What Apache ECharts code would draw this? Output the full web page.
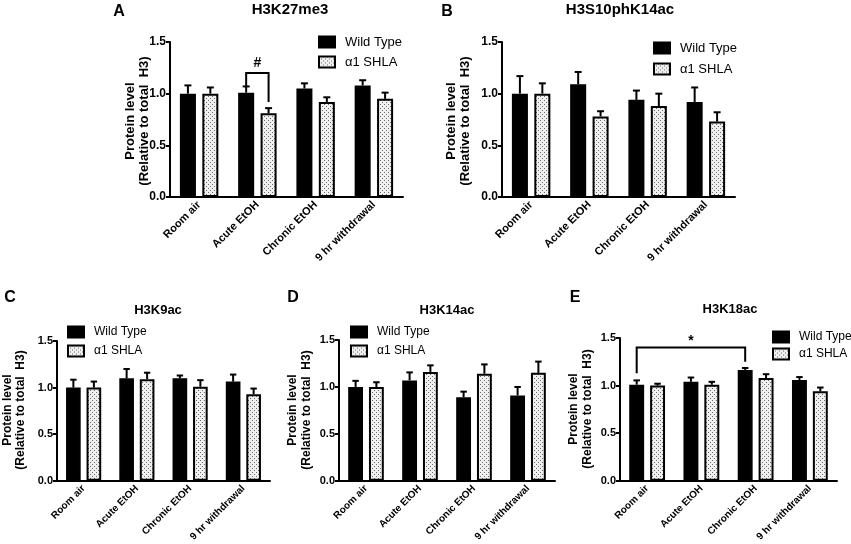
<!DOCTYPE html>
<html><head><meta charset="utf-8">
<script src="https://cdn.jsdelivr.net/npm/echarts@6/dist/echarts.min.js"></script>
<style>html,body{margin:0;padding:0;background:#fff}#c{width:851px;height:544px}</style>
</head><body><div id="c"></div>
<script>
const categories = ['Room air', 'Acute EtOH', 'Chronic EtOH', '9 hr withdrawal'];
const seriesNames = ['Wild Type', '\u03b11 SHLA'];
const panelTitles = ['H3K27me3', 'H3S10phK14ac', 'H3K9ac', 'H3K14ac', 'H3K18ac'];
const panelLetters = ['A', 'B', 'C', 'D', 'E'];
const yTicks = [0, 0.5, 1.0, 1.5];
const yNameLine1 = 'Protein level';
const yNameLine2 = '(Relative to total  H3)';

// Panel A: H3K27me3
const wtA = [1.00, 1.01, 1.05, 1.08];
const wtSemA = [0.08, 0.06, 0.05, 0.05];
const shlaA = [1.00, 0.81, 0.92, 0.95];
const shlaSemA = [0.06, 0.05, 0.045, 0.06];
// Panel B: H3S10phK14ac
const wtB = [1.00, 1.09, 0.94, 0.92];
const wtSemB = [0.17, 0.12, 0.09, 0.14];
const shlaB = [1.00, 0.78, 0.88, 0.73];
const shlaSemB = [0.10, 0.05, 0.12, 0.09];
// Panel C: H3K9ac
const wtC = [1.00, 1.10, 1.10, 1.065];
const wtSemC = [0.085, 0.10, 0.03, 0.075];
const shlaC = [1.00, 1.09, 1.01, 0.93];
const shlaSemC = [0.065, 0.07, 0.07, 0.06];
// Panel D: H3K14ac
const wtD = [1.00, 1.07, 0.89, 0.91];
const wtSemD = [0.065, 0.085, 0.06, 0.09];
const shlaD = [1.00, 1.16, 1.14, 1.15];
const shlaSemD = [0.05, 0.07, 0.10, 0.12];
// Panel E: H3K18ac
const wtE = [1.01, 1.04, 1.165, 1.06];
const wtSemE = [0.045, 0.045, 0.02, 0.03];
const shlaE = [1.00, 1.01, 1.08, 0.94];
const shlaSemE = [0.02, 0.03, 0.04, 0.04];

// significance brackets: [cat1, side1, low1, cat2, side2, low2, top]
const bracketA = [1, -1, 1.07, 1, 1, 0.92, 1.20];
const markA = '#';
const markAY = 1.30;
const bracketE = [0, -1, 1.13, 2, -1, 1.25, 1.40];
const markE = '*';
const markEY = 1.47;

const wtAll = [wtA, wtB, wtC, wtD, wtE];
const wtSemAll = [wtSemA, wtSemB, wtSemC, wtSemD, wtSemE];
const shlaAll = [shlaA, shlaB, shlaC, shlaD, shlaE];
const shlaSemAll = [shlaSemA, shlaSemB, shlaSemC, shlaSemD, shlaSemE];

const FONT = '"Liberation Sans", Arial, Helvetica, sans-serif';

const layout = [
  {grid:{left:170,top:42,width:233,height:155}, title:[290,2], titleFont:15, letter:[119,12], yname:[130,144,121], yFont:13, legend:[318,35,6], legFont:13, tickFont:12, catFont:11},
  {grid:{left:502,top:42,width:233,height:155}, title:[620,2], titleFont:15, letter:[447,12], yname:[451,465,121], yFont:13, legend:[653,41,7], legFont:13, tickFont:12, catFont:11},
  {grid:{left:57,top:341,width:213,height:141}, title:[158,304], titleFont:13, letter:[10,298], yname:[8,21,410], yFont:12, legend:[67,325,5], legFont:12, tickFont:11, catFont:10},
  {grid:{left:339,top:340,width:216,height:142}, title:[447,304], titleFont:13, letter:[293,298], yname:[293,307,410], yFont:12, legend:[350,325,5], legFont:12, tickFont:11, catFont:10},
  {grid:{left:620,top:338,width:217,height:143}, title:[730,303], titleFont:13, letter:[575,298], yname:[574,588,409], yFont:12, legend:[772,330,3], legFont:12, tickFont:11, catFont:10}
];

// dotted pattern for the alpha1 SHLA bars
const pc = document.createElement('canvas');
pc.width = 4; pc.height = 4;
const pctx = pc.getContext('2d');
pctx.fillStyle = '#f0f0f0'; pctx.fillRect(0, 0, 4, 4);
pctx.fillStyle = '#6a6a6a';
pctx.fillRect(0, 0, 1, 1); pctx.fillRect(2, 2, 1, 1);
const dotPattern = {image: pc, repeat: 'repeat'};

const OFF = 0.1925; // bar centre offset as fraction of band (barWidth 27.5%, barGap 40%)

function errRender(side) {
  return function (params, api) {
    const ci = api.value(0), m = api.value(1), s = api.value(2);
    const band = api.size([1, 0])[0];
    const p0 = api.coord([ci, m]);
    const p1 = api.coord([ci, m + s]);
    const x = p0[0] + side * OFF * band;
    const cap = band * 0.06;
    return {type: 'group', children: [
      {type: 'line', shape: {x1: x, y1: p0[1], x2: x, y2: p1[1]}, style: {stroke: '#000', lineWidth: 2}},
      {type: 'line', shape: {x1: x - cap, y1: p1[1], x2: x + cap, y2: p1[1]}, style: {stroke: '#000', lineWidth: 2}}
    ]};
  };
}

function bracketRender(mark, markY, fontSize) {
  return function (params, api) {
    const band = api.size([1, 0])[0];
    const c1 = api.value(0), s1 = api.value(1), l1 = api.value(2);
    const c2 = api.value(3), s2 = api.value(4), l2 = api.value(5), t = api.value(6);
    const x1 = api.coord([c1, 0])[0] + s1 * OFF * band;
    const x2 = api.coord([c2, 0])[0] + s2 * OFF * band;
    const y1 = api.coord([c1, l1])[1];
    const y2 = api.coord([c2, l2])[1];
    const yt = api.coord([c1, t])[1];
    const ym = api.coord([c1, markY])[1];
    return {type: 'group', children: [
      {type: 'polyline', shape: {points: [[x1, y1], [x1, yt], [x2, yt], [x2, y2]]}, style: {stroke: '#000', lineWidth: 2, fill: null}},
      {type: 'text', x: (x1 + x2) / 2, y: ym, style: {text: mark, font: 'bold ' + fontSize + 'px ' + FONT, fill: '#000', align: 'center', verticalAlign: 'middle'}}
    ]};
  };
}

const grids = [], xAxes = [], yAxes = [], legends = [], titles = [], series = [], graphics = [];

layout.forEach((L, i) => {
  grids.push(Object.assign({containLabel: false}, L.grid));
  xAxes.push({
    type: 'category', gridIndex: i, data: categories,
    axisLine: {lineStyle: {color: '#000', width: 2}},
    axisTick: {alignWithLabel: true, length: 4, lineStyle: {color: '#000', width: 2}},
    axisLabel: {interval: 0, rotate: 45, margin: 6, color: '#000', fontFamily: FONT, fontWeight: 'bold', fontSize: L.catFont},
    splitLine: {show: false}
  });
  yAxes.push({
    type: 'value', gridIndex: i, min: yTicks[0], max: yTicks[yTicks.length - 1], interval: yTicks[1] - yTicks[0],
    axisLine: {show: true, lineStyle: {color: '#000', width: 2}},
    axisTick: {show: true, length: 4, lineStyle: {color: '#000', width: 2}},
    axisLabel: {margin: 4, color: '#000', fontFamily: FONT, fontWeight: 'bold', fontSize: L.tickFont, formatter: v => v.toFixed(1)},
    splitLine: {show: false}
  });
  legends.push({
    left: L.legend[0], top: L.legend[1], orient: 'vertical', itemWidth: 16, itemHeight: 11, itemGap: L.legend[2],
    selectedMode: false, icon: 'rect', padding: 0,
    textStyle: {fontFamily: FONT, fontSize: L.legFont, lineHeight: 14, color: '#000', padding: [0, 0, 0, 5]},
    data: [
      {name: seriesNames[0], itemStyle: {color: '#000', borderColor: '#000', borderWidth: 2}},
      {name: seriesNames[1], itemStyle: {color: dotPattern, borderColor: '#000', borderWidth: 2}}
    ]
  });
  titles.push({
    text: panelTitles[i], left: L.title[0], top: L.title[1], textAlign: 'center', padding: 0,
    textStyle: {fontFamily: FONT, fontWeight: 'bold', fontSize: L.titleFont, color: '#000'}
  });
  graphics.push({type: 'text', x: L.letter[0], y: L.letter[1],
    style: {text: panelLetters[i], font: 'bold 16px ' + FONT, fill: '#000', align: 'center', verticalAlign: 'middle'}});
  graphics.push({type: 'text', x: L.yname[0], y: L.yname[2], rotation: Math.PI / 2,
    style: {text: yNameLine1, font: 'bold ' + L.yFont + 'px ' + FONT, fill: '#000', align: 'center', verticalAlign: 'middle'}});
  graphics.push({type: 'text', x: L.yname[1], y: L.yname[2], rotation: Math.PI / 2,
    style: {text: yNameLine2, font: 'bold ' + L.yFont + 'px ' + FONT, fill: '#000', align: 'center', verticalAlign: 'middle'}});

  series.push({
    type: 'bar', name: seriesNames[0], xAxisIndex: i, yAxisIndex: i, data: wtAll[i],
    barWidth: '27.5%', barGap: '40%',
    itemStyle: {color: '#000', borderColor: '#000', borderWidth: 1.5}
  });
  series.push({
    type: 'bar', name: seriesNames[1], xAxisIndex: i, yAxisIndex: i, data: shlaAll[i],
    barWidth: '27.5%', barGap: '40%',
    itemStyle: {color: dotPattern, borderColor: '#000', borderWidth: 2}
  });
  series.push({
    type: 'custom', name: 'wt-err-' + i, xAxisIndex: i, yAxisIndex: i, clip: false, z: 3,
    renderItem: errRender(-1), data: wtAll[i].map((v, k) => [k, v, wtSemAll[i][k]])
  });
  series.push({
    type: 'custom', name: 'shla-err-' + i, xAxisIndex: i, yAxisIndex: i, clip: false, z: 3,
    renderItem: errRender(1), data: shlaAll[i].map((v, k) => [k, v, shlaSemAll[i][k]])
  });
});

series.push({type: 'custom', name: 'sig-A', xAxisIndex: 0, yAxisIndex: 0, clip: false, z: 4,
  renderItem: bracketRender(markA, markAY, 14), data: [bracketA]});
series.push({type: 'custom', name: 'sig-E', xAxisIndex: 4, yAxisIndex: 4, clip: false, z: 4,
  renderItem: bracketRender(markE, markEY, 14), data: [bracketE]});

const chart = echarts.init(document.getElementById('c'), null, {renderer: 'canvas'});
chart.setOption({
  animation: false,
  backgroundColor: '#fff',
  title: titles,
  legend: legends,
  grid: grids,
  xAxis: xAxes,
  yAxis: yAxes,
  graphic: graphics,
  series: series
});
</script>
</body></html>
